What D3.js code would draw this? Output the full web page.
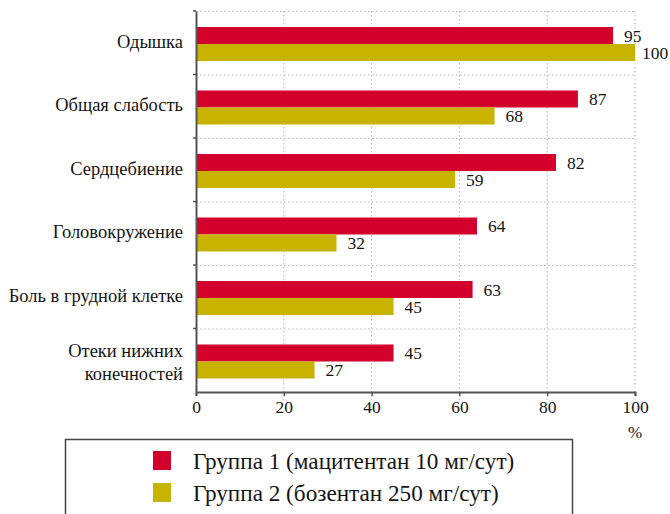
<!DOCTYPE html>
<html>
<head>
<meta charset="utf-8">
<script src="https://cdn.jsdelivr.net/npm/d3@7"></script>
</head>
<body style="margin:0;background:#fff">
<svg id="chart" width="670" height="514" style="display:block"></svg>
<script>
// Symptoms (two-line label split by "\n")
const categories = [
  "Одышка",
  "Общая слабость",
  "Сердцебиение",
  "Головокружение",
  "Боль в грудной клетке",
  "Отеки нижних\nконечностей"
];
// Share of patients with each symptom, %
const group1 = [95, 87, 82, 64, 63, 45];
const group2 = [100, 68, 59, 32, 45, 27];
const seriesNames = [
  "Группа 1 (мацитентан 10 мг/сут)",
  "Группа 2 (бозентан 250 мг/сут)"
];
const xTicks = [0, 20, 40, 60, 80, 100];
const unitLabel = "%";

const colors = ["#d2002b", "#c8b400"];
const axisColor = "#555";
const gridColor = "#b5b5b5";
const textColor = "#151515";
const serif = '"Liberation Serif"';

const svg = d3.select("#chart");
const margin = { top: 11, left: 196, right: 35, bottom: 122 };
const width = 670, height = 514;
const innerW = width - margin.left - margin.right;   // 439
const innerH = height - margin.top - margin.bottom;  // 381

const x = d3.scaleLinear().domain([0, 100]).range([0, innerW]);
const y = d3.scaleBand().domain(categories).range([0, innerH]);
const barH = 17;
const barTop = 16; // offset of the first bar inside its band

const g = svg.append("g").attr("transform", `translate(${margin.left},${margin.top})`);

// dotted grid: vertical at ticks, horizontal at band boundaries
g.append("g").selectAll("line")
  .data(xTicks.filter(d => d > 0))
  .join("line")
  .attr("x1", d => x(d)).attr("x2", d => x(d))
  .attr("y1", 0).attr("y2", innerH + 8)
  .attr("stroke", gridColor).attr("stroke-width", 1)
  .attr("stroke-dasharray", "1.5,2.5");

g.append("g").selectAll("line")
  .data(categories)
  .join("line")
  .attr("x1", 0).attr("x2", innerW)
  .attr("y1", d => y(d) + 0.5).attr("y2", d => y(d) + 0.5)
  .attr("stroke", gridColor).attr("stroke-width", 1)
  .attr("stroke-dasharray", "1.5,2.5");

// bars
const rows = categories.map((c, i) => ({ c, v: [group1[i], group2[i]] }));
const rowG = g.selectAll("g.row").data(rows).join("g")
  .attr("class", "row")
  .attr("transform", d => `translate(0,${y(d.c)})`);

rowG.selectAll("rect")
  .data(d => d.v.map((v, k) => ({ v, k })))
  .join("rect")
  .attr("x", 0)
  .attr("y", d => barTop + d.k * barH)
  .attr("width", d => x(d.v))
  .attr("height", barH)
  .attr("fill", d => colors[d.k]);

// value labels to the right of each bar, kept inside the canvas
rowG.selectAll("text.val")
  .data(d => d.v.map((v, k) => ({ v, k })))
  .join("text")
  .attr("class", "val")
  .attr("x", d => Math.min(x(d.v) + 11, innerW + 7))
  .attr("y", d => barTop + d.k * barH + barH / 2)
  .attr("dy", "0.35em")
  .style("font-family", serif)
  .attr("font-size", 17.5)
  .attr("fill", textColor)
  .text(d => d.v);

// category labels
const catG = g.selectAll("text.cat").data(categories).join("text")
  .attr("class", "cat")
  .attr("text-anchor", "end")
  .style("font-family", serif)
  .attr("font-size", 18.5)
  .attr("fill", textColor)
  .attr("transform", d => `translate(-13,${y(d) + y.bandwidth() / 2})`);
catG.each(function (d) {
  const lines = d.split("\n");
  const t = d3.select(this);
  lines.forEach((ln, i) => {
    t.append("tspan")
      .attr("x", 0)
      .attr("y", lines.length === 1 ? 5 : -3.5 + i * 23.5)
      .text(ln);
  });
});

// axes
const xAxis = g.append("g")
  .attr("transform", `translate(0,${innerH})`)
  .call(d3.axisBottom(x).tickValues(xTicks).tickSize(4).tickPadding(5));
xAxis.attr("font-family", null);
xAxis.select(".domain").attr("stroke", axisColor).attr("stroke-width", 2);
xAxis.selectAll(".tick line").attr("stroke", axisColor).attr("stroke-width", 1.5);
xAxis.selectAll(".tick text")
  .style("font-family", serif)
  .attr("font-size", 17.5).attr("fill", textColor);

const yAxis = g.append("g")
  .call(d3.axisLeft(y).tickValues([]).tickSize(0));
yAxis.select(".domain").attr("stroke", axisColor).attr("stroke-width", 2);
// small tick marks at band boundaries
yAxis.selectAll("line.bt").data(categories).join("line")
  .attr("class", "bt")
  .attr("x1", -3).attr("x2", 0)
  .attr("y1", d => y(d)).attr("y2", d => y(d))
  .attr("stroke", axisColor).attr("stroke-width", 1.5);

g.append("text")
  .attr("x", x(100))
  .attr("y", innerH + 46)
  .attr("text-anchor", "middle")
  .style("font-family", serif)
  .attr("font-size", 17)
  .attr("fill", textColor)
  .text(unitLabel);

// legend
const leg = svg.append("g");
leg.append("rect")
  .attr("x", 65.5).attr("y", 439.5)
  .attr("width", 507).attr("height", 90)
  .attr("fill", "none").attr("stroke", "#444").attr("stroke-width", 1.5);
seriesNames.forEach((name, i) => {
  leg.append("rect")
    .attr("x", 153).attr("y", 451 + i * 32)
    .attr("width", 18).attr("height", 19)
    .attr("fill", colors[i]);
  leg.append("text")
    .attr("x", 193).attr("y", 469 + i * 32)
    .style("font-family", serif)
    .attr("font-size", 23.2)
    .attr("fill", textColor)
    .text(name);
});
</script>
</body>
</html>
